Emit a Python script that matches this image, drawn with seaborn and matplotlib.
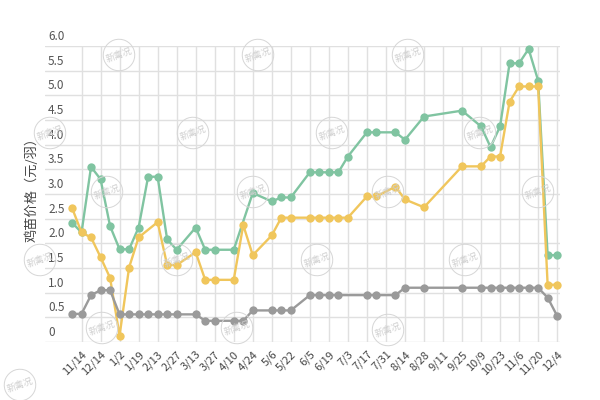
import numpy as np
import pandas as pd
import matplotlib
matplotlib.use("Agg")
import matplotlib.pyplot as plt
import seaborn as sns

# ---- data (NaN = no point that week) ----
nan = np.nan
green = [2.42, 2.22, 3.55, 3.30, 2.35, 1.88, 1.88, 2.32, 3.35, 3.35,
         2.08, 1.87, nan, 2.32, 1.87, 1.87, nan, 1.87, nan, 3.02,
         nan, 2.85, 2.93, 2.93, nan, 3.44, 3.44, 3.44, 3.44, 3.76,
         nan, 4.25, 4.25, nan, 4.25, 4.10, nan, 4.57, nan, nan,
         nan, 4.69, nan, 4.37, 3.95, 4.37, 5.65, 5.65, 5.94, 5.30,
         1.76, 1.76]
yellow = [2.72, 2.22, 2.12, 1.72, 1.30, 0.13, 1.51, 2.12, nan, 2.43,
          1.56, 1.56, nan, 1.82, 1.26, 1.26, nan, 1.26, 2.37, 1.76,
          nan, 2.16, 2.52, 2.52, nan, 2.52, 2.52, 2.52, 2.52, 2.52,
          nan, 2.95, 2.95, nan, 3.15, 2.89, nan, 2.73, nan, nan,
          nan, 3.56, nan, 3.56, 3.76, 3.76, 4.87, 5.18, 5.18, 5.18,
          1.16, 1.16]
gray = [0.57, 0.57, 0.95, 1.05, 1.05, 0.56, 0.56, 0.56, 0.56, 0.56,
        0.56, 0.56, nan, 0.56, 0.43, 0.43, nan, 0.43, 0.43, 0.64,
        nan, 0.64, 0.64, 0.64, nan, 0.95, 0.95, 0.95, 0.95, nan,
        nan, 0.95, 0.95, nan, 0.95, 1.10, nan, 1.10, nan, nan,
        nan, 1.10, nan, 1.10, 1.10, 1.10, 1.10, 1.10, 1.10, 1.10,
        0.90, 0.53]

tick_labels = ["11/14", "12/14", "1/2", "1/19", "2/13", "2/27", "3/13", "3/27",
               "4/10", "4/24", "5/6", "5/22", "6/5", "6/19", "7/3", "7/17",
               "7/31", "8/14", "8/28", "9/11", "9/25", "10/9", "10/23",
               "11/6", "11/20", "12/4"]
y_ticks = [0, 0.5, 1.0, 1.5, 2.0, 2.5, 3.0, 3.5, 4.0, 4.5, 5.0, 5.5, 6.0]
y_tick_labels = ["0", "0.5", "1.0", "1.5", "2.0", "2.5", "3.0", "3.5",
                 "4.0", "4.5", "5.0", "5.5", "6.0"]

colors = {"green": "#80c4a1", "yellow": "#f0c65c", "gray": "#9a9a9a"}

# long format, drop missing weeks so the line joins across them
pos = np.arange(len(green))
df = pd.concat([
    pd.DataFrame({"pos": pos, "value": green, "series": "green"}),
    pd.DataFrame({"pos": pos, "value": yellow, "series": "yellow"}),
    pd.DataFrame({"pos": pos, "value": gray, "series": "gray"}),
]).dropna()

sns.set_theme(style="white")
plt.rcParams["font.family"] = ["Noto Sans CJK SC", "DejaVu Sans"]

fig = plt.figure(figsize=(6, 4), dpi=100)
ax = fig.add_axes([45 / 600, 58 / 400, 515 / 600, 296 / 400])

sns.lineplot(data=df, x="pos", y="value", hue="series",
             hue_order=["green", "yellow", "gray"], palette=colors,
             marker="o", markersize=6, markeredgewidth=0, linewidth=1.7,
             legend=False, ax=ax, clip_on=False)

ax.set_xlim(-2.84, 51.3)
ax.set_ylim(0, 6)

# grid: vertical lines at the labelled weeks, horizontal at each 0.5
ax.set_xticks(pos[1::2])
ax.set_xticklabels(tick_labels, rotation=45, ha="right", va="top",
                   rotation_mode="anchor", fontsize=8, color="#444444")
ax.set_yticks(y_ticks)
ax.set_yticklabels([])
ax.grid(True, color="#e0e0e0", linewidth=1)
ax.set_axisbelow(True)
ax.tick_params(axis="both", length=0)
ax.tick_params(axis="x", pad=5)
for s in ax.spines.values():
    s.set_visible(False)

# y labels sit just above their grid line, inside the plot
for v, lab in zip(y_ticks, y_tick_labels):
    ax.text(0.006, v + 0.06, lab, transform=ax.get_yaxis_transform(),
            ha="left", va="bottom", fontsize=8.5, color="#555555")

ax.set_xlabel("")
ax.set_ylabel("")
fig.text(32 / 600, 1 - 186 / 400, "鸡苗价格（元/羽）", rotation=90,
         ha="center", va="center", fontsize=9.5, color="#444444")

# faint watermarks
marks = [(119, 55), (258, 55), (408, 55),
         (50, 133), (193, 133), (332, 133), (480, 133),
         (107, 192), (253, 192), (388, 192), (538, 192),
         (40, 260), (177, 260), (317, 260), (465, 260),
         (102, 328), (237, 328), (388, 330),
         (20, 385)]
for mx, my in marks:
    fig.text(mx / 600, 1 - my / 400, "新禽况", fontsize=6.5, color="#cfcfcf",
             rotation=20, ha="center", va="center",
             bbox=dict(boxstyle="circle,pad=0.25", fc="none",
                       ec="#d6d6d6", lw=0.7))

fig.savefig("out.png", dpi=100)
